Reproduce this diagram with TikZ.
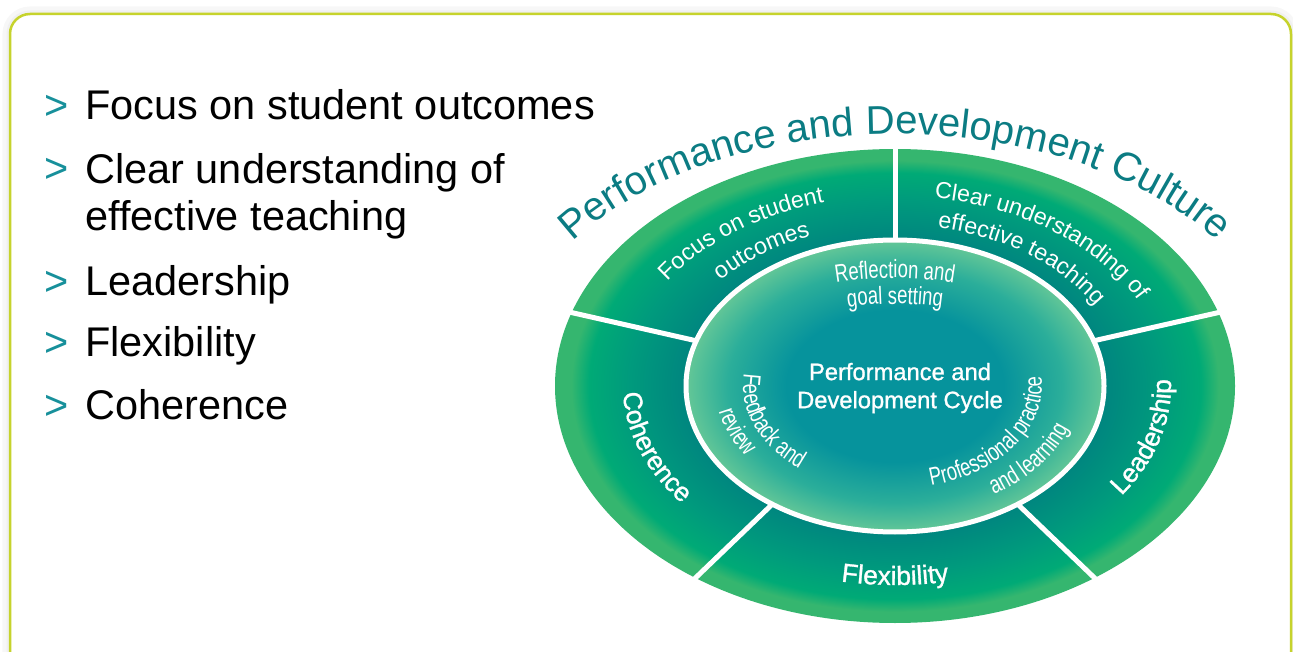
\documentclass[tikz,border=0pt]{standalone}
\usepackage{fontspec}
\setmainfont{Liberation Sans}
\newfontfamily\condfont[FakeStretch=0.74]{Liberation Sans}
\newfontfamily\medfont[FakeBold=1.1]{Liberation Sans}
\usetikzlibrary{positioning, decorations.text}

\definecolor{pdFrame}{HTML}{C6D32C}
\definecolor{pdTeal}{HTML}{0B7C83}
\definecolor{pdBullet}{HTML}{17909B}
\definecolor{pdRingIn}{HTML}{00867F}
\definecolor{pdRingMid}{HTML}{009A7D}
\definecolor{pdRingBright}{HTML}{00AA76}
\definecolor{pdRingOut}{HTML}{35B66F}
\definecolor{pdCoreMid}{HTML}{06939C}
\definecolor{pdCoreSoft}{HTML}{2BAE9A}
\definecolor{pdCoreEdge}{HTML}{64C797}

\pgfdeclareradialshading{ringshade}{\pgfpoint{0bp}{0bp}}{%
  color(0bp)=(pdRingIn); color(15.5bp)=(pdRingIn); color(19.5bp)=(pdRingMid);
  color(22.5bp)=(pdRingBright); color(23.8bp)=(pdRingOut); color(25bp)=(pdRingOut);
  color(50bp)=(pdRingOut)}
\pgfdeclareradialshading{coreshade}{\pgfpoint{0bp}{0bp}}{%
  color(0bp)=(pdCoreMid); color(13bp)=(pdCoreMid); color(20bp)=(pdCoreSoft);
  color(25bp)=(pdCoreEdge); color(50bp)=(pdCoreEdge)}

\newcommand\culturefont{\color{pdTeal}\fontsize{22.8}{27}\selectfont}
\newcommand\segfont{\color{white}\fontsize{13.2}{16}\selectfont}
\newcommand\segboldfont{\color{white}\medfont\fontsize{15}{18}\selectfont}
\newcommand\stagefont{\color{white}\condfont\fontsize{14.2}{17}\selectfont}

\tikzset{
  frame/.style={draw=pdFrame, fill=white, line width=0.5mm, rounded corners=4mm},
  marker/.style={anchor=base west, inner sep=0pt, text=pdBullet, font=\fontsize{23.6}{27.3}\selectfont},
  point/.style={anchor=base west, inner sep=0pt, align=left, font=\fontsize{23.6}{27.3}\selectfont},
  divider/.style={white, line width=1mm},
  along/.style={decorate, decoration={text along path, text align=center, text={#1}}},
  cyclelabel/.style={align=center, text=white, font=\medfont\fontsize{13.5}{16}\selectfont}
}

\begin{document}
\begin{tikzpicture}[x=0.2mm, y=0.2mm]
  \useasboundingbox (0,0) rectangle (1293,-652);
  % soft shadow, then the frame
  \draw[black!3, line width=3mm, rounded corners=4mm] (10,-14) rectangle (1291,-720);
  \draw[black!6, line width=1.4mm, rounded corners=4mm] (10,-14) rectangle (1291,-720);
  \draw[frame] (10,-14) rectangle (1291,-720);

  % list on the left (base of a two-line node is its last line)
  \node[point] (focus) at (85,-120) {Focus on student outcomes};
  \node[point] (clear) at (85,-231) {Clear understanding of\\effective teaching};
  \node[point] (lead) at (85,-295) {Leadership};
  \node[point] (flex) at (85,-357) {Flexibility};
  \node[point] (coh) at (85,-420) {Coherence};
  \foreach \n/\y in {focus/120, clear/183, lead/295, flex/357, coh/420}
    \node[marker] (\n-mark) at (44,-\y) {>};

  % culture ring and cycle core
  \begin{scope}[shift={(895,-386)}]
    \shade[shading=ringshade] (0,0) ellipse[x radius=340, y radius=237];
    \foreach \a in {18, 90, 162, 234, 306}
      \draw[divider] (\a:200 and 140) -- (\a:342 and 239);
    \shadedraw[shading=coreshade, draw=white, line width=1mm] (0,0) ellipse[x radius=209, y radius=146];
    \node[cyclelabel] (cycle) at (5,-2) {Performance and\\Development Cycle};

    \path[along={|\culturefont|Performance and Development Culture}]
      (150:394 and 252) arc[start angle=150, end angle=30, x radius=394, y radius=252];

    % outer segments
    \path[along={|\segfont|Focus on student}]
      (172:272 and 190) arc[start angle=172, end angle=86, x radius=272, y radius=190];
    \path[along={|\segfont|outcomes}]
      (172:231 and 161) arc[start angle=172, end angle=86, x radius=231, y radius=161];
    \path[along={|\segfont|Clear understanding of}]
      (94:272 and 190) arc[start angle=94, end angle=10, x radius=272, y radius=190];
    \path[along={|\segfont|effective teaching}]
      (94:231 and 161) arc[start angle=94, end angle=10, x radius=231, y radius=161];
    \path[along={|\segboldfont|Coherence}]
      (158:272 and 189) arc[start angle=158, end angle=238, x radius=272, y radius=189];
    \path[along={|\segboldfont|Leadership}]
      (-50:276 and 192) arc[start angle=-50, end angle=20, x radius=276, y radius=192];
    \path[along={|\segboldfont|Flexibility}]
      (238:286 and 199) arc[start angle=238, end angle=302, x radius=286, y radius=199];

    % cycle stages
    \path[along={|\stagefont|Reflection and}]
      (118:200 and 108) arc[start angle=118, end angle=62, x radius=200, y radius=108];
    \path[along={|\stagefont|goal setting}]
      (120:170 and 82) arc[start angle=120, end angle=60, x radius=170, y radius=82];
    \path[along={|\stagefont|Feedback and}]
      (163:152 and 106) arc[start angle=163, end angle=239, x radius=152, y radius=106];
    \path[along={|\stagefont|review}]
      (170:180 and 126) arc[start angle=170, end angle=232, x radius=180, y radius=126];
    \path[along={|\stagefont|Professional practice}]
      (-82:147 and 103) arc[start angle=-82, end angle=14, x radius=147, y radius=103];
    \path[along={|\stagefont|and learning}]
      (-72:184 and 129) arc[start angle=-72, end angle=0, x radius=184, y radius=129];
  \end{scope}
\end{tikzpicture}
\end{document}
